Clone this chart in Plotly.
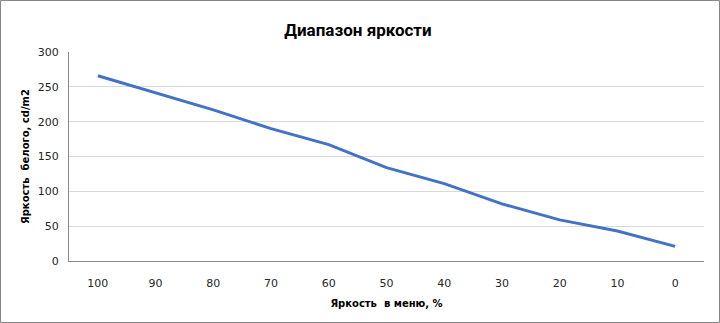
import plotly.graph_objects as go

categories = ["100", "90", "80", "70", "60", "50", "40", "30", "20", "10", "0"]
luminance = [266, 242, 217, 190, 167, 134, 111, 82, 59, 43, 21]

W, H = 720, 323
ml, mr, mt, mb = 69, 16, 52, 62
pw, ph = W - ml - mr, H - mt - mb

fig = go.Figure()
fig.add_trace(go.Scatter(
    x=categories, y=luminance, mode="lines",
    line=dict(color="#4472C4", width=3),
    showlegend=False,
))

fig.update_layout(
    width=W, height=H,
    margin=dict(l=ml, r=mr, t=mt, b=mb),
    paper_bgcolor="white", plot_bgcolor="white",
    title=dict(text="<b>Диапазон яркости</b>", x=358 / W, xanchor="center",
               y=1 - 30 / H, yanchor="middle",
               font=dict(family="Roboto, Arial", size=17, color="#000000")),
    xaxis=dict(
        type="category", showgrid=False, showline=True, linecolor="#898989", linewidth=1,
        ticks="", tickfont=dict(family="DejaVu Sans, Arial", size=11, color="#262626"),
        ticklabelstandoff=12,
        title=dict(text="<b>Яркость  в меню, %</b>", standoff=10,
                   font=dict(family="DejaVu Sans, Arial", size=10, color="#000000")),
        range=[-0.5, 10.5],
    ),
    yaxis=dict(
        range=[0, 300], dtick=50, showgrid=True, gridcolor="#d9d9d9", gridwidth=1,
        showline=True, linecolor="#898989", linewidth=1, zeroline=False,
        ticks="", ticklabelstandoff=7,
        tickfont=dict(family="DejaVu Sans, Arial", size=11, color="#262626"),
        title=dict(text="<b>Яркость  белого, cd/m2</b>", standoff=6,
                   font=dict(family="DejaVu Sans, Arial", size=10, color="#000000")),
    ),
    shapes=[dict(
        type="rect", xref="paper", yref="paper",
        x0=(0.5 - ml) / pw, x1=(W - 0.5 - ml) / pw,
        y0=-(mb - 0.5) / ph,
        y1=(ph + mt - 0.5) / ph,
        line=dict(color="#868686", width=1), fillcolor="rgba(0,0,0,0)",
    )],
)

fig.write_html("out.html")
